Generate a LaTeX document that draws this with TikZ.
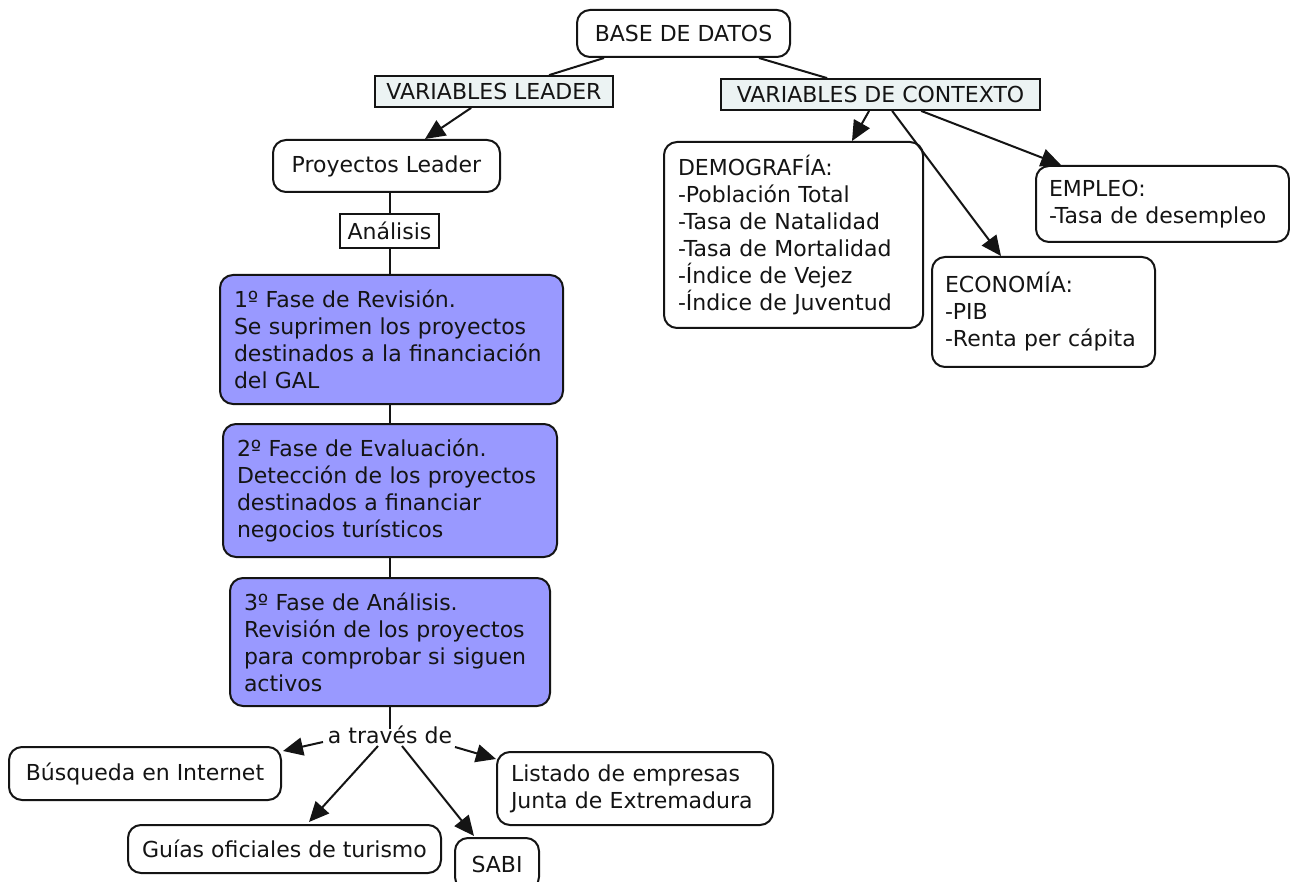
\documentclass[tikz,border=0pt]{standalone}
\usepackage{fontspec}
\setmainfont{DejaVu Sans}
\usetikzlibrary{arrows.meta,calc}
\definecolor{phase}{RGB}{153,153,255}
\definecolor{varfill}{RGB}{236,243,243}
\definecolor{ink}{RGB}{20,20,20}
\hyphenpenalty=10000
\tikzset{
  every node/.style={font=\fontsize{22}{27}\selectfont, text=ink},
  rbox/.style={draw=ink, rounded corners=13pt, line width=2pt, fill=white, inner sep=0pt, align=center},
  lbox/.style={rbox, align=left, inner xsep=14pt},
  pbox/.style={lbox, fill=phase},
  vbox/.style={draw=ink, line width=1.8pt, fill=varfill, inner sep=0pt},
  sqbox/.style={draw=ink, line width=1.8pt, fill=white, inner sep=0pt},
  link/.style={draw=ink, line width=2pt},
  arr/.style={link, -{Triangle[length=20pt,width=18pt]}},
}
\begin{document}
\begin{tikzpicture}[x=1pt,y=-1pt]
\fill[white] (0,0) rectangle (1290,882);
\useasboundingbox (0,0) rectangle (1290,882);

% nodes
\node[rbox, minimum width=213pt, minimum height=47pt] (base) at (683.5,33.5) {BASE DE DATOS};
\node[vbox, minimum width=238pt, minimum height=31pt] (vl) at (494,91.5) {VARIABLES LEADER};
\node[vbox, minimum width=319pt, minimum height=31pt] (vdc) at (880.5,94.5) {VARIABLES DE CONTEXTO};
\node[rbox, minimum width=227pt, minimum height=52pt] (pl) at (386.5,166) {Proyectos Leader};
\node[sqbox, minimum width=99pt, minimum height=34pt] (an) at (389.5,231) {Análisis};
\node[pbox, text width=315pt, minimum height=129pt] (f1) at (391.5,339.5)
  {1º Fase de Revisión.\\Se suprimen los proyectos\\destinados a la financiación\\del GAL};
\node[pbox, text width=306pt, minimum height=133pt] (f2) at (390,490.5)
  {2º Fase de Evaluación.\\Detección de los proyectos\\destinados a financiar\\negocios turísticos};
\node[pbox, text width=292pt, minimum height=128pt] (f3) at (390,642)
  {3º Fase de Análisis.\\Revisión de los proyectos\\para comprobar si siguen\\activos};
\node[inner sep=1pt] (at) at (390,735) {a través de};
\node[rbox, minimum width=272pt, minimum height=53pt] (bus) at (145,773.5) {Búsqueda en Internet};
\node[rbox, minimum width=313pt, minimum height=48pt] (gui) at (284.5,849) {Guías oficiales de turismo};
\node[rbox, minimum width=84pt, minimum height=52pt] (sabi) at (497,864) {SABI};
\node[lbox, text width=248pt, minimum height=73pt] (lis) at (635,788.5)
  {Listado de empresas\\Junta de Extremadura};
\node[lbox, text width=231pt, minimum height=186pt] (dem) at (793.5,235)
  {DEMOGRAFÍA:\\-Población Total\\-Tasa de Natalidad\\-Tasa de Mortalidad\\-Índice de Vejez\\-Índice de Juventud};
\node[lbox, inner xsep=13pt, text width=227pt, minimum height=76pt] (emp) at (1162.5,204)
  {EMPLEO:\\-Tasa de desempleo};
\node[lbox, inner xsep=13pt, text width=197pt, minimum height=110pt] (eco) at (1043.5,312)
  {ECONOMÍA:\\-PIB\\-Renta per cápita};

% connectors
\draw[link] ($(base.south west)+(28,0)$) -- ($(vl.north west)+(175,0)$);
\draw[link] ($(base.south west)+(183,0)$) -- ($(vdc.north west)+(107,0)$);
\draw[arr] ($(vl.south west)+(97,0)$) -- ($(pl.north west)+(153,0)$);
\draw[arr] ($(vdc.south west)+(149,0)$) -- ($(dem.north west)+(189,0)$);
\draw[arr] ($(vdc.south west)+(172,0)$) -- ($(eco.north west)+(70,0)$);
\draw[arr] ($(vdc.south west)+(201,0)$) -- ($(emp.north west)+(26,0)$);

\draw[link] (an.north) -- (an.north |- pl.south);
\draw[link] (an.south) -- (an.south |- f1.north);
\draw[link] (an.south |- f1.south) -- (an.south |- f2.north);
\draw[link] (an.south |- f2.south) -- (an.south |- f3.north);
\draw[link] (an.south |- f3.south) -- ($(an.south |- at.north)+(0,4)$);

\draw[arr] ($(at.center)+(-67,7)$) -- ($(bus.north east)+(1,5)$);
\draw[arr] ($(at.center)+(-12,11)$) -- ($(gui.north west)+(182,-2)$);
\draw[arr] ($(at.center)+(12,11)$) -- ($(sabi.north west)+(20,-1)$);
\draw[arr] ($(at.center)+(65,12)$) -- ($(lis.north west)+(0,8)$);
\end{tikzpicture}
\end{document}
